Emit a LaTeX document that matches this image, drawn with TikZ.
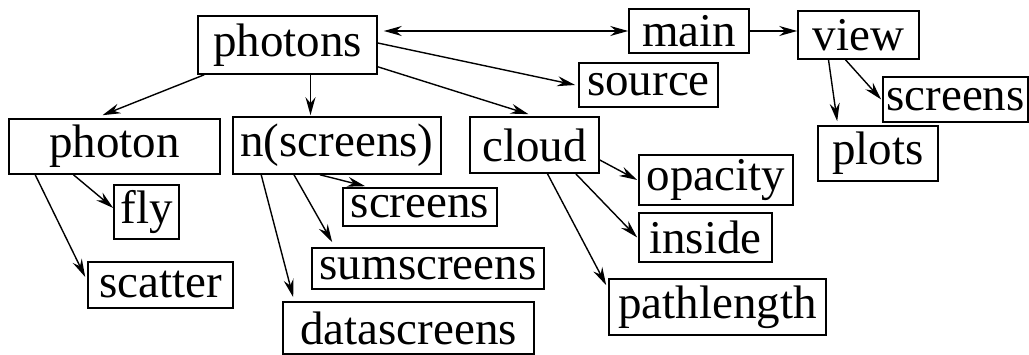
\documentclass[tikz,border=0pt]{standalone}
\usepackage{fontspec}
\setmainfont{Liberation Serif}
\usepackage{tikz}
\usetikzlibrary{arrows.meta,calc}

\begin{document}
\begin{tikzpicture}[x=1pt, y=-1pt,
    >={Stealth[length=18pt, width=10pt, inset=6pt]},
    box/.style={draw, line width=1.6pt, inner sep=0pt, font=\fontsize{47}{50}\selectfont},
    arr/.style={line width=1.4pt, ->}]
    \useasboundingbox (0,0) rectangle (1029,355);

    \node [box, minimum width=179pt, minimum height=58pt] (photons) at (287.5, 45) {photons};
    \node [box, minimum width=211pt, minimum height=55pt] (photon) at (114.5, 146.5) {photon};
    \node [box, minimum width=208pt, minimum height=57pt] (nscreens) at (337, 145.5) {n(screens)};
    \node [box, minimum width=129pt, minimum height=56pt] (cloud) at (534.5, 145) {cloud};
    \node [box, minimum width=120pt, minimum height=44pt] (main) at (689, 31) {main};
    \node [box, minimum width=121pt, minimum height=48pt] (view) at (858.5, 35) {view};
    \node [box, minimum width=139pt, minimum height=44pt] (source) at (648.5, 85) {source};
    \node [box, minimum width=145pt, minimum height=45pt] (vscreens) at (955.5, 99.5) {screens};
    \node [box, minimum width=120pt, minimum height=55pt] (plots) at (878, 153.5) {plots};
    \node [box, minimum width=65pt, minimum height=54pt] (fly) at (146.5, 212) {fly};
    \node [box, minimum width=145pt, minimum height=46pt] (scatter) at (160.5, 285) {scatter};
    \node [box, minimum width=154pt, minimum height=38pt] (nscr) at (420, 207) {screens};
    \node [box, minimum width=232pt, minimum height=41pt] (sumscreens) at (428, 268.5) {sumscreens};
    \node [box, minimum width=251pt, minimum height=52pt] (datascreens) at (408.5, 328) {datascreens};
    \node [box, minimum width=154pt, minimum height=50pt] (opacity) at (716, 180) {opacity};
    \node [box, minimum width=133pt, minimum height=49pt] (inside) at (705.5, 237.5) {inside};
    \node [box, minimum width=217pt, minimum height=56pt] (pathlength) at (717.5, 307) {pathlength};

    \draw [arr, <->, shorten <=6pt] (photons.east |- main.west) -- (main.west);
    \draw [arr] (main.east) -- (main.east -| view.west);
    \draw [arr] ([yshift=2pt]photons.east) -- ([xshift=-3pt]source.west);
    \draw [arr] ([yshift=8pt]photons.south east) -- ([xshift=-6pt, yshift=2pt]cloud.north);
    \draw [arr] ([xshift=7pt]photons.south west) -- ([xshift=-12pt, yshift=3pt]photon.north);
    \draw [arr] ([xshift=23pt]photons.south) -- ([xshift=23pt, yshift=1pt]photons.south |- nscreens.north);

    \draw [arr] ([xshift=-41pt]photon.south) -- ([yshift=4pt]fly.west);
    \draw [arr] ([xshift=27pt]photon.south west) -- ([xshift=-2pt, yshift=8pt]scatter.west);

    \draw [arr] ([xshift=-17pt]nscreens.south) -- ([xshift=23pt, yshift=1pt]nscr.north west);
    \draw [arr] ([xshift=-43pt]nscreens.south) -- ([xshift=21pt, yshift=5pt]sumscreens.north west);
    \draw [arr] ([xshift=29pt]nscreens.south west) -- ([xshift=11pt, yshift=4pt]datascreens.north west);

    \draw [arr] ([yshift=-15pt]cloud.east) -- ([xshift=-1pt]opacity.west);
    \draw [arr] ([xshift=-24pt]cloud.south east) -- ([xshift=-1pt]inside.west);
    \draw [arr] ([xshift=13pt]cloud.south) -- ([xshift=-2pt, yshift=-7pt]pathlength.north west);

    \draw [arr] ([xshift=-30pt]view.south) -- ([xshift=20pt, yshift=4pt]plots.north west);
    \draw [arr] ([xshift=-13pt]view.south) -- ([xshift=-1pt]vscreens.west);
\end{tikzpicture}
\end{document}
